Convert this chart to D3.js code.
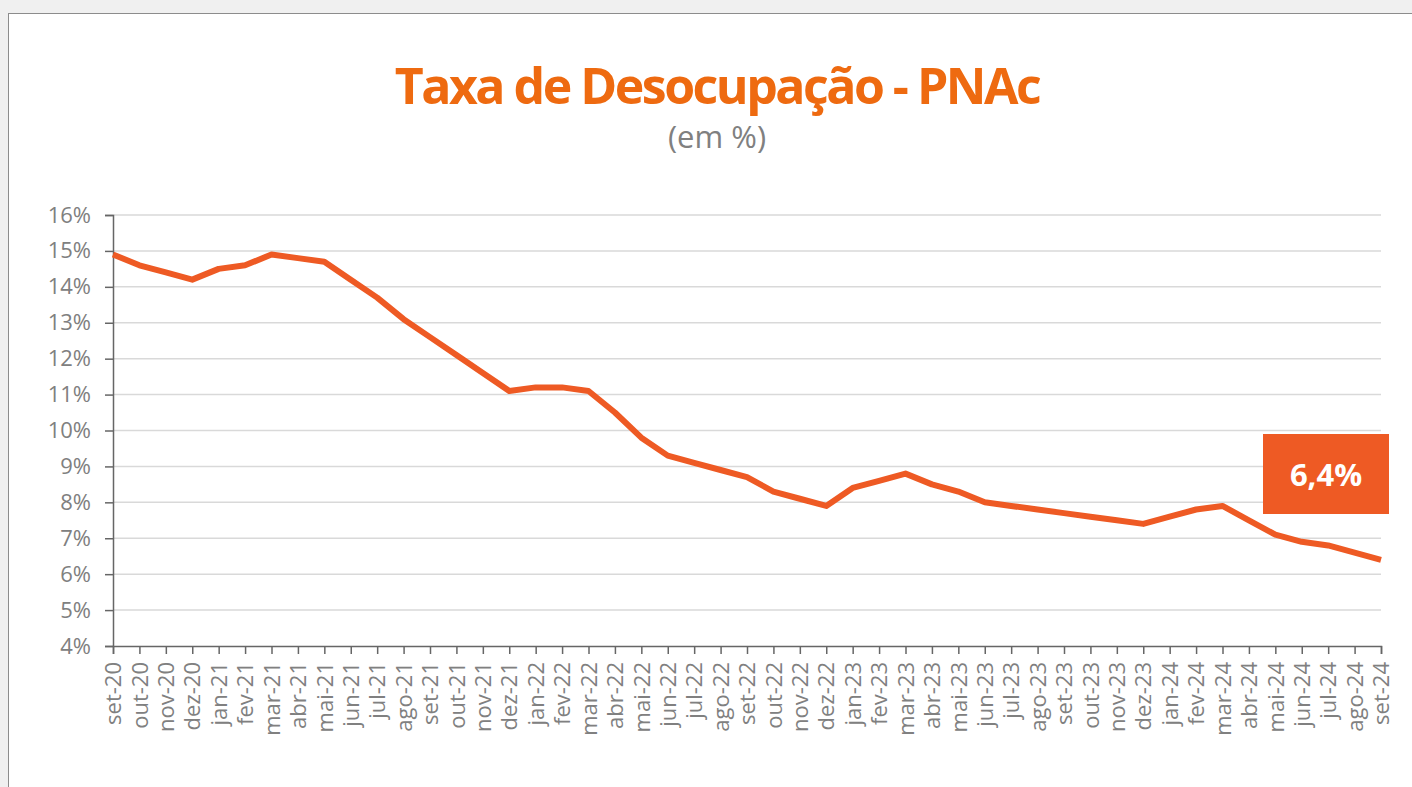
<!DOCTYPE html>
<html>
<head>
<meta charset="utf-8">
<title>Taxa de Desocupação - PNAc</title>
<script src="https://d3js.org/d3.v7.min.js"></script>
<style>
    body {margin: 0; background: #f0f0f0;}
    svg {display: block; font-family: "Open Sans", sans-serif;}
</style>
</head>
<body>
<svg width="1412" height="787"></svg>
<script>
// meses (set-20 .. set-24)
var months = ["set-20","out-20","nov-20","dez-20","jan-21","fev-21","mar-21","abr-21","mai-21","jun-21","jul-21","ago-21",
    "set-21","out-21","nov-21","dez-21","jan-22","fev-22","mar-22","abr-22","mai-22","jun-22","jul-22","ago-22",
    "set-22","out-22","nov-22","dez-22","jan-23","fev-23","mar-23","abr-23","mai-23","jun-23","jul-23","ago-23",
    "set-23","out-23","nov-23","dez-23","jan-24","fev-24","mar-24","abr-24","mai-24","jun-24","jul-24","ago-24","set-24"];

// taxa de desocupação (%)
var rate = [14.9,14.6,14.4,14.2,14.5,14.6,14.9,14.8,14.7,14.2,13.7,13.1,
    12.6,12.1,11.6,11.1,11.2,11.2,11.1,10.5,9.8,9.3,9.1,8.9,
    8.7,8.3,8.1,7.9,8.4,8.6,8.8,8.5,8.3,8.0,7.9,7.8,
    7.7,7.6,7.5,7.4,7.6,7.8,7.9,7.5,7.1,6.9,6.8,6.6,6.4];

var yTicks = [4,5,6,7,8,9,10,11,12,13,14,15,16];
var lastLabel = "6,4%";

var orange = "#ee5a24";
var grey = "#808080";

var svg = d3.select("svg");

// painel branco com borda
svg.append("rect")
    .attr("x", 8.5).attr("y", 13.5)
    .attr("width", 1420).attr("height", 800)
    .attr("fill", "white")
    .attr("stroke", "#8c8c8c")
    .attr("stroke-width", 1);

var xs = d3.scalePoint().domain(months).range([113, 1381]);
var ys = d3.scaleLinear().domain([4, 16]).range([646, 215]);

// grade
svg.append("g")
    .selectAll("line")
    .data(yTicks.slice(1))
    .enter()
    .append("line")
        .attr("x1", 113).attr("x2", 1381)
        .attr("y1", function(d){return ys(d)})
        .attr("y2", function(d){return ys(d)})
        .attr("stroke", "#d9d9d9")
        .attr("stroke-width", 1.5);

// eixo y
var yAxis = svg.append("g")
    .attr("transform", "translate(113,0)")
    .call(d3.axisLeft(ys).tickValues(yTicks).tickSize(8).tickPadding(14).tickFormat(function(d){return d + "%"}));
yAxis.select(".domain").attr("stroke", "#666").attr("stroke-width", 1.5);
yAxis.selectAll(".tick line").attr("stroke", "#666").attr("stroke-width", 1.5);
yAxis.selectAll("text")
    .attr("fill", grey)
    .style("font-size", "22px")
    .style("font-family", "Open Sans, sans-serif");

// eixo x
var xAxis = svg.append("g")
    .attr("transform", "translate(0,646)")
    .call(d3.axisBottom(xs).tickSizeOuter(0).tickSize(8));
xAxis.select(".domain").attr("stroke", "#666").attr("stroke-width", 1.5);
xAxis.selectAll(".tick line").attr("stroke", "#666").attr("stroke-width", 1.5);
xAxis.selectAll("text")
    .attr("fill", grey)
    .style("font-size", "22px")
    .style("font-family", "Open Sans, sans-serif")
    .attr("transform", "rotate(-90)")
    .attr("text-anchor", "end")
    .attr("x", -16)
    .attr("y", 0)
    .attr("dy", "0.35em");

// linha
svg.append("path")
    .datum(rate)
    .attr("fill", "none")
    .attr("stroke", orange)
    .attr("stroke-width", 6)
    .attr("stroke-linejoin", "round")
    .attr("d", d3.line()
        .x(function(d,i){return xs(months[i])})
        .y(function(d){return ys(d)})
    );

// destaque do último valor
svg.append("rect")
    .attr("x", 1263).attr("y", 434)
    .attr("width", 126).attr("height", 80)
    .attr("fill", orange);
svg.append("text")
    .attr("x", 1326).attr("y", 486)
    .attr("text-anchor", "middle")
    .attr("fill", "white")
    .style("font-size", "31px")
    .style("font-weight", "bold")
    .text(lastLabel);

// títulos
svg.append("text")
    .attr("x", 717).attr("y", 104)
    .attr("text-anchor", "middle")
    .attr("fill", "#ee6a10")
    .style("font-size", "50px")
    .style("font-weight", "bold")
    .style("letter-spacing", "-2.5px")
    .text("Taxa de Desocupação - PNAc");
svg.append("text")
    .attr("x", 717).attr("y", 148)
    .attr("text-anchor", "middle")
    .attr("fill", grey)
    .style("font-size", "31px")
    .text("(em %)");
</script>
</body>
</html>
